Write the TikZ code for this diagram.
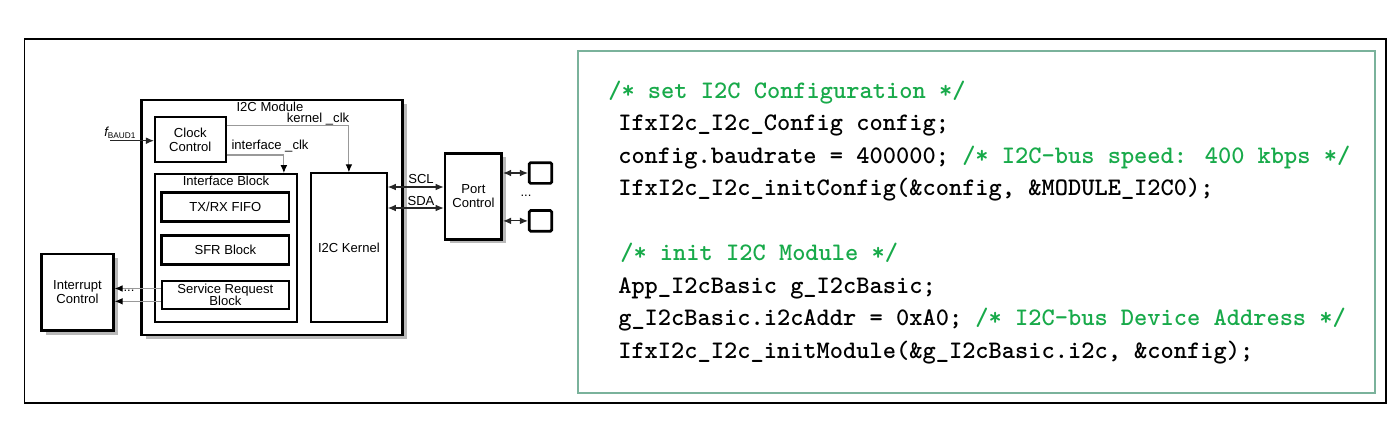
\documentclass[tikz,border=0pt]{standalone}
\usepackage{fontspec}
\setsansfont{Liberation Sans}
\usetikzlibrary{arrows.meta,positioning,calc,shadows}
\definecolor{codegreen}{RGB}{24,170,74}
\definecolor{boxteal}{RGB}{122,178,155}

\begin{document}
\begin{tikzpicture}[
    x=0.75pt, y=-0.75pt,
    blk/.style={draw,line width=1.5pt,fill=white,align=center,inner sep=0pt,
                font=\sffamily\fontsize{9.8}{10.6}\selectfont},
    heavy/.style={blk,line width=2pt},
    shadowed/.style={drop shadow={shadow xshift=3.5pt,shadow yshift=-3pt,
                     fill=gray!55,opacity=1}},
    padbox/.style={draw,line width=2pt,rounded corners=1pt,fill=white,
                   minimum width=16.8pt,minimum height=15.5pt,inner sep=0pt},
    lbl/.style={font=\sffamily\fontsize{9.8}{10.6}\selectfont,inner sep=0pt},
    clkline/.style={gray!80,line width=.8pt,-{Latex[length=6pt,width=5pt,color=black]}},
    bus/.style={black!85,line width=.8pt,
                {Latex[length=6pt,width=5pt]}-{Latex[length=6pt,width=5pt]}},
    code/.style={anchor=base west,inner sep=0pt,
                 font=\ttfamily\bfseries\fontsize{18.9}{20}\selectfont},
    comment/.style={code,text=codegreen},
  ]
  \useasboundingbox (0,0) rectangle (1398,429);

  % --- outer frame ---
  \draw[line width=1.1pt] (24.5,39) rectangle (1386,403);

  % --- I2C module and its blocks ---
  \node[heavy,shadowed,minimum width=195.75pt,minimum height=176.25pt] (mod) at (272.2,217.5) {};
  \node[lbl] (modlbl) at (270,106.5) {I2C Module};
  \node[blk,minimum width=53pt,minimum height=33.75pt] (clk) at (190.3,139.5) {Clock\\Control};
  \node[blk,minimum width=106.3pt,minimum height=110.8pt] (iface) at (226,248) {};
  \node[lbl] (ifacelbl) at (226,180.5) {Interface Block};
  \node[heavy,minimum width=95.5pt,minimum height=21.8pt] (fifo) at (225.4,207) {TX/RX FIFO};
  \node[heavy,minimum width=95.5pt,minimum height=21.5pt] (sfr)  at (225.4,250) {SFR Block};
  \node[blk,minimum width=95.5pt,minimum height=21.2pt,
        font=\sffamily\fontsize{9.8}{9.6}\selectfont] (srb) at (225.4,294.9) {Service Request\\Block};
  \node[blk,minimum width=56.8pt,minimum height=111.3pt] (kern) at (348.9,247.5) {I2C Kernel};

  % --- outside blocks ---
  \node[heavy,shadowed,minimum width=53.7pt,minimum height=57.5pt] (intc) at (77.5,292.4) {Interrupt\\Control};
  \node[heavy,shadowed,minimum width=42.5pt,minimum height=64.5pt] (port) at (473.4,196.3) {Port\\Control};
  \node[padbox] (pad1) at (540.5,173) {};
  \node[padbox] (pad2) at (540.5,220.9) {};
  \node[lbl] (paddots) at (526,196) {...};

  % --- clocks ---
  \coordinate (fin) at (110,140.7);
  \draw[black!85,line width=.8pt,-{Latex[length=6pt,width=5pt]}] (fin) -- (fin -| clk.west);
  \node[lbl,anchor=base west] (fbaud) at (104,136.5)
    {\itshape f\upshape\raisebox{-.35ex}{\fontsize{6.2}{7}\selectfont BAUD1}};
  \draw[clkline] ($(clk.north east)!0.2!(clk.south east)$) -| (kern.north);
  \node[lbl] (kclklbl) at (318,119) {kernel \_clk};
  \draw[clkline] ($(clk.north east)!0.83!(clk.south east)$) -| ([xshift=-10.5pt]iface.north east);
  \node[lbl] (iclklbl) at (270,146) {interface \_clk};

  % --- service requests ---
  \coordinate (irq1) at ([yshift=4.8pt]srb.west);
  \coordinate (irq2) at ([yshift=-4.8pt]srb.west);
  \draw[clkline] (irq1) -- (irq1 -| intc.east);
  \draw[clkline] (irq2) -- (irq2 -| intc.east);
  \node[lbl] (irqdots) at (129,291) {...};

  % --- bus lines ---
  \coordinate (scl) at (kern.east |- 0,187);
  \coordinate (sda) at (kern.east |- 0,208);
  \draw[bus] (scl) -- (scl -| port.west);
  \draw[bus] (sda) -- (sda -| port.west);
  \node[lbl] (scllbl) at (421,179) {SCL};
  \node[lbl] (sdalbl) at (421,200.5) {SDA};
  \draw[bus] (pad1.west -| port.east) -- (pad1.west);
  \draw[bus] (pad2.west -| port.east) -- (pad2.west);

  % --- code listing ---
  \draw[boxteal,line width=1.5pt] (578,50.7) rectangle (1375,393);
  \node[comment] (c1) at (608,98)    {/* set I2C Configuration */};
  \node[code]    (c2) at (618,130.5) {IfxI2c\_I2c\_Config config;};
  \node[code]    (c3) at (618,163)   {config.baudrate = 400000; \textcolor{codegreen}{/* I2C-bus speed: 400 kbps */}};
  \node[code]    (c4) at (618,195.5) {IfxI2c\_I2c\_initConfig(\&config, \&MODULE\_I2C0);};
  \node[comment] (c5) at (620,260.5) {/* init I2C Module */};
  \node[code]    (c6) at (618,293)   {App\_I2cBasic g\_I2cBasic;};
  \node[code]    (c7) at (618,325.5) {g\_I2cBasic.i2cAddr = 0xA0; \textcolor{codegreen}{/* I2C-bus Device Address */}};
  \node[code]    (c8) at (618,358)   {IfxI2c\_I2c\_initModule(\&g\_I2cBasic.i2c, \&config);};

\end{tikzpicture}
\end{document}
